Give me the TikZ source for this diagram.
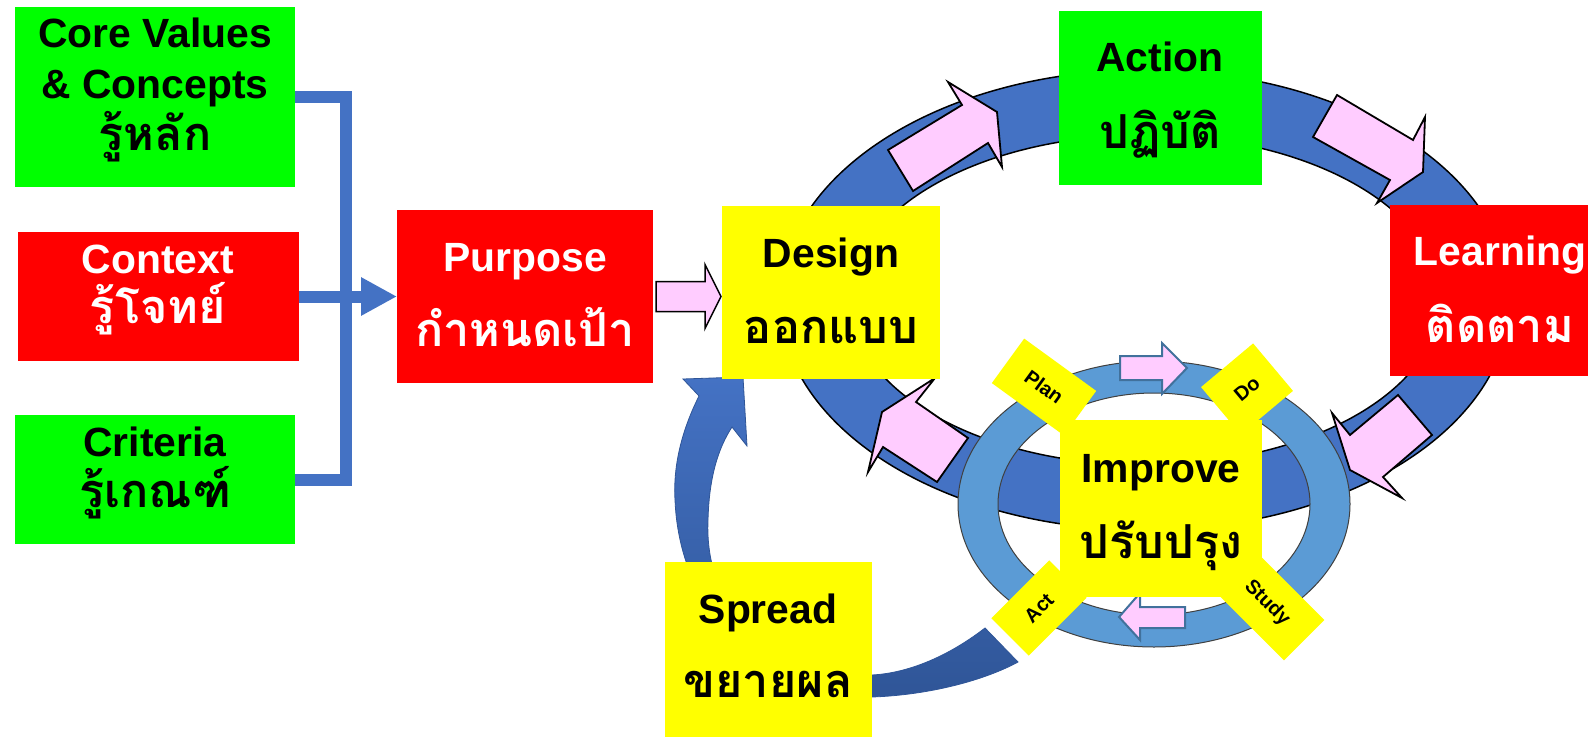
\documentclass[tikz,border=0pt]{standalone}
\usepackage{fontspec}
\setmainfont{Liberation Sans}
\newfontfamily\thaifont[Script=Thai]{Loma}
\usetikzlibrary{fit,calc,arrows.meta}
\definecolor{boxgreen}{HTML}{00FF00}
\definecolor{boxred}{HTML}{FF0000}
\definecolor{boxyellow}{HTML}{FFFF00}
\definecolor{ringblue}{HTML}{4472C4}
\definecolor{lightring}{HTML}{5B9BD5}
\definecolor{pinkfill}{HTML}{FFCCFF}
\definecolor{smalledge}{HTML}{41719C}
\definecolor{deepblue}{HTML}{2F5597}
\begin{document}
\begin{tikzpicture}[x=1bp,y=-1bp,
  panel/.style={inner sep=0pt,outer sep=0pt,draw=none},
  en/.style={anchor=base,inner sep=0pt,font=\fontsize{41}{41}\selectfont\bfseries},
  th/.style={anchor=base,inner sep=0pt,font=\fontsize{47}{47}\selectfont\thaifont\bfseries},
  tag/.style={fill=boxyellow,inner sep=0pt,outer sep=0pt,font=\fontsize{20}{20}\selectfont\bfseries},
  bus/.style={draw=ringblue,line width=12bp},
  blockarrow/.style={fill=pinkfill,draw=black,line width=1.8bp,line join=miter},
  smallarrow/.style={fill=pinkfill,draw=smalledge,line width=2bp,line join=miter},
]
\useasboundingbox (0,0) rectangle (1588,737);
\clip (0,0) rectangle (1588,737);

% curved "Spread" arrow returning to Design
\shadedraw[top color=ringblue,bottom color=deepblue,draw=deepblue,line width=0.8bp]
  (699,396) .. controls (682,430) and (673,465) .. (675,500)
  .. controls (680,625) and (780,700) .. (872,697)
  .. controls (930,695) and (985,680) .. (1018,662)
  -- (985,628)
  .. controls (950,655) and (910,673) .. (872,675)
  .. controls (770,678) and (704,610) .. (708,520)
  .. controls (709,480) and (717,450) .. (732,427)
  -- (747,446) -- (743,377) -- (683,379) -- cycle;

% main cycle ring
\fill[ringblue,even odd rule]
  (1145,300) ellipse [x radius=365,y radius=230]
  (1145,300) ellipse [x radius=295,y radius=165];
\draw[black,line width=1.5bp] (1145,300) ellipse [x radius=365,y radius=230];
\draw[black,line width=1.5bp] (1145,300) ellipse [x radius=295,y radius=165];

% block arrows along the ring
\draw[blockarrow] (888,150) -- (962,105) -- (948,82) -- (997,112) -- (1002,167) -- (988,143) -- (913,191) -- cycle;
\draw[blockarrow] (1337,95) -- (1413,140) -- (1425,117) -- (1423,172) -- (1377,203) -- (1390,180) -- (1313,137) -- cycle;
\draw[blockarrow] (1398,395) -- (1432,435) -- (1383,477) -- (1402,498) -- (1350,470) -- (1332,413) -- (1350,435) -- cycle;
\draw[blockarrow] (935,378) -- (916,402) -- (968,438) -- (937,482) -- (883,447) -- (868,472) -- (882,412) -- cycle;

% PDSA ring
\fill[lightring,even odd rule]
  (1154,504) ellipse [x radius=196,y radius=143]
  (1154,504) ellipse [x radius=156,y radius=111];
\draw[black!75,line width=1bp] (1154,504) ellipse [x radius=196,y radius=143];
\draw[black!75,line width=1bp] (1154,504) ellipse [x radius=156,y radius=111];

\draw[smallarrow] (1120,356) -- (1162,356) -- (1162,343) -- (1187,368) -- (1162,394) -- (1162,380) -- (1120,380) -- cycle;
\draw[smallarrow] (1185,607) -- (1140,607) -- (1140,593) -- (1119,617) -- (1140,640) -- (1140,628) -- (1185,628) -- cycle;

% boxes
\node[panel,fill=boxgreen,fit={(15,7)(295,187)}] (core) {};
\node[panel,fill=boxred,fit={(18,232)(299,361)}] (ctx) {};
\node[panel,fill=boxgreen,fit={(15,415)(295,544)}] (crit) {};
\node[panel,fill=boxred,fit={(397,210)(653,383)}] (purpose) {};
\node[panel,fill=boxyellow,fit={(722,206)(940,379)}] (design) {};
\node[panel,fill=boxgreen,fit={(1059,11)(1262,185)}] (action) {};
\node[panel,fill=boxred,fit={(1390,205)(1610,376)}] (learn) {};
\node[panel,fill=boxyellow,fit={(1060,420)(1262,597)}] (improve) {};
\node[panel,fill=boxyellow,fit={(665,562)(872,740)}] (spread) {};

% PDSA tags
\node[tag,minimum width=89bp,minimum height=55bp,rotate=-36] (plan) at (1044,387) {Plan};
\node[tag,minimum width=68bp,minimum height=62bp,rotate=40] (do) at (1247,389) {Do};
\node[tag,minimum width=82bp,minimum height=53bp,rotate=45] (act) at (1039,608) {Act};
\node[tag,minimum width=105bp,minimum height=57bp,rotate=-45] (study) at (1267,603) {Study};

% connectors on the left
\coordinate (bus) at (346,297);
\draw[bus] (core.east) -| (bus) |- (crit.east);
\draw[bus,-{Triangle[length=36bp,width=36bp]}] (ctx.east) -- (purpose.west);

% Purpose -> Design
\draw[blockarrow,line width=1.5bp]
  ($(purpose.east)+(3,-15)$) -- ($(purpose.east)+(52,-15)$) -- ($(purpose.east)+(52,-32)$)
  -- ($(purpose.east)+(68,0)$) -- ($(purpose.east)+(52,32)$) -- ($(purpose.east)+(52,15)$)
  -- ($(purpose.east)+(3,15)$) -- cycle;

% texts
\node[en] at (155,48) {Core Values};
\node[en] at (155,98) {\& Concepts};
\node[th] at (155,150) {รู้หลัก};
\node[en,text=white] at (158,273) {Context};
\node[th,text=white] at (158,323) {รู้โจทย์};
\node[en] at (155,456) {Criteria};
\node[th] at (155,507) {รู้เกณฑ์};
\node[en,text=white] at (525,271) {Purpose};
\node[th,text=white] at (525,346) {กำหนดเป้า};
\node[en] at (831,267) {Design};
\node[th] at (831,343) {ออกแบบ};
\node[en] at (1160,72) {Action};
\node[th] at (1160,148) {ปฏิบัติ};
\node[en,text=white] at (1500,265) {Learning};
\node[th,text=white] at (1500,342) {ติดตาม};
\node[en] at (1161,482) {Improve};
\node[th] at (1161,558) {ปรับปรุง};
\node[en] at (768,623) {Spread};
\node[th] at (768,697) {ขยายผล};
\end{tikzpicture}
\end{document}
